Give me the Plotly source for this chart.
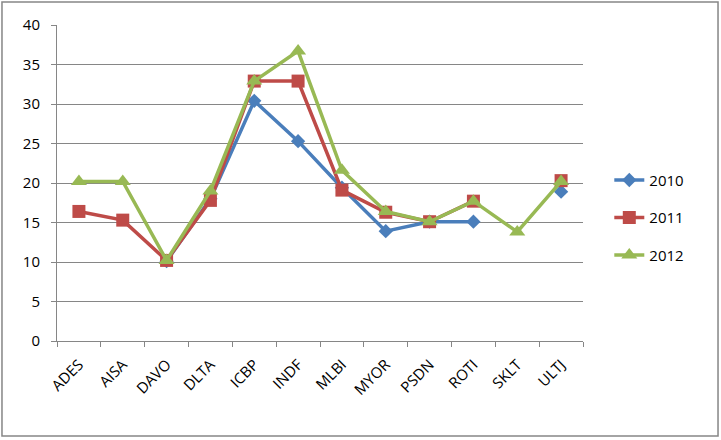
import plotly.graph_objects as go

categories = ["ADES", "AISA", "DAVO", "DLTA", "ICBP", "INDF", "MLBI", "MYOR", "PSDN", "ROTI", "SKLT", "ULTJ"]
y2010 = [None, None, 10.1, 18.0, 30.4, 25.3, 19.4, 13.9, 15.1, 15.1, None, 18.9]
y2011 = [16.4, 15.3, 10.2, 17.8, 32.9, 32.9, 19.1, 16.3, 15.1, 17.7, None, 20.3]
y2012 = [20.2, 20.2, 10.2, 19.0, 32.9, 36.7, 21.6, 16.4, 15.1, 17.7, 13.8, 20.2]
series_names = ["2010", "2011", "2012"]
colors = ["#4A7EBB", "#BE4B48", "#98B954"]
symbols = ["diamond", "square", "triangle-up"]
sizes = [11, 13, 14]

fig = go.Figure()
for i, (name, ys) in enumerate(zip(series_names, [y2010, y2011, y2012])):
    fig.add_trace(go.Scatter(
        x=categories, y=ys, name=name, mode="lines+markers",
        connectgaps=False, legendgroup=name,
        line=dict(color=colors[i], width=3.5),
        marker=dict(symbol=symbols[i], size=sizes[i], color=colors[i]),
    ))

font = "Open Sans, Liberation Sans, sans-serif"
fig.update_layout(
    width=721, height=440,
    margin=dict(l=57, r=138, t=25, b=99),
    paper_bgcolor="white", plot_bgcolor="white",
    font=dict(family=font, size=14, color="#000000"),
    showlegend=True,
    legend=dict(x=1.05, y=0.39, xanchor="left", yanchor="middle",
                font=dict(size=15), tracegroupgap=15, bgcolor="rgba(0,0,0,0)"),
    xaxis=dict(type="category", range=[-0.5, 11.5], tickson="boundaries",
               ticks="outside", ticklen=5, tickcolor="#868686",
               showline=True, linecolor="#868686", linewidth=1,
               showgrid=False, tickangle=-45, tickfont=dict(size=15),
               ticklabelstandoff=8),
    yaxis=dict(range=[0, 40], dtick=5, ticks="outside", ticklen=5,
               tickcolor="#868686", showline=True, linecolor="#868686",
               linewidth=1, showgrid=True, gridcolor="#868686", gridwidth=1,
               zeroline=False, tickfont=dict(size=15), ticklabelstandoff=8),
    shapes=[dict(type="rect", xref="paper", yref="paper",
                 x0=-0.1046, x1=1.2567, y0=-0.3006, y1=1.0728,
                 line=dict(color="#868686", width=1.5), fillcolor="rgba(0,0,0,0)")],
)

fig.write_html("out.html")
